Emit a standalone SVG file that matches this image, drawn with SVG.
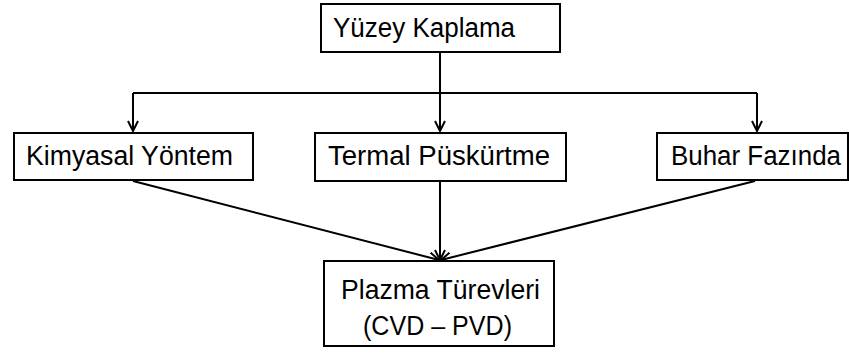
<svg xmlns="http://www.w3.org/2000/svg" width="849" height="353" viewBox="0 0 849 353">
<style>
.box{fill:#fff;stroke:#000;stroke-width:2}
.t{font-family:"Liberation Sans",Arial,sans-serif;font-size:27px;fill:#000}
.c{fill:none;stroke:#000;stroke-width:2}
</style>
<defs>
<marker id="ah" viewBox="0 0 12 12" refX="11" refY="6" markerWidth="12" markerHeight="12" markerUnits="userSpaceOnUse" orient="auto">
<path d="M1,1 L11,6 L1,11" fill="none" stroke="#000" stroke-width="2"/>
</marker>
</defs>
<rect width="849" height="353" fill="#fff"/>
<g id="connectors">
<path class="c" d="M440,53 V93"/>
<path class="c" d="M133,93 H757"/>
<path class="c" d="M133,93 V131" marker-end="url(#ah)"/>
<path class="c" d="M440,93 V131" marker-end="url(#ah)"/>
<path class="c" d="M757,93 V131" marker-end="url(#ah)"/>
<path class="c" d="M133,181 L439,260" marker-end="url(#ah)"/>
<path class="c" d="M440,182 V260" marker-end="url(#ah)"/>
<path class="c" d="M755,181 L441,260" marker-end="url(#ah)"/>
</g>
<g id="n-yuzey">
<rect class="box" x="321" y="4" width="239" height="48"/>
<text class="t" x="333" y="37" textLength="182" lengthAdjust="spacingAndGlyphs">Yüzey Kaplama</text>
</g>
<g id="n-kimyasal">
<rect class="box" x="14" y="133" width="239" height="47"/>
<text class="t" x="26" y="165" textLength="207" lengthAdjust="spacingAndGlyphs">Kimyasal Yöntem</text>
</g>
<g id="n-termal">
<rect class="box" x="315" y="133" width="251" height="48"/>
<text class="t" x="328" y="165" textLength="222" lengthAdjust="spacingAndGlyphs">Termal Püskürtme</text>
</g>
<g id="n-buhar">
<rect class="box" x="657" y="133" width="191" height="47"/>
<text class="t" x="671" y="165" textLength="170" lengthAdjust="spacingAndGlyphs">Buhar Fazında</text>
</g>
<g id="n-plazma">
<rect class="box" x="324" y="261" width="230" height="85"/>
<text class="t" x="341" y="299" textLength="199" lengthAdjust="spacingAndGlyphs">Plazma Türevleri</text>
<text class="t" x="363" y="335" textLength="149" lengthAdjust="spacingAndGlyphs">(CVD – PVD)</text>
</g>
</svg>
